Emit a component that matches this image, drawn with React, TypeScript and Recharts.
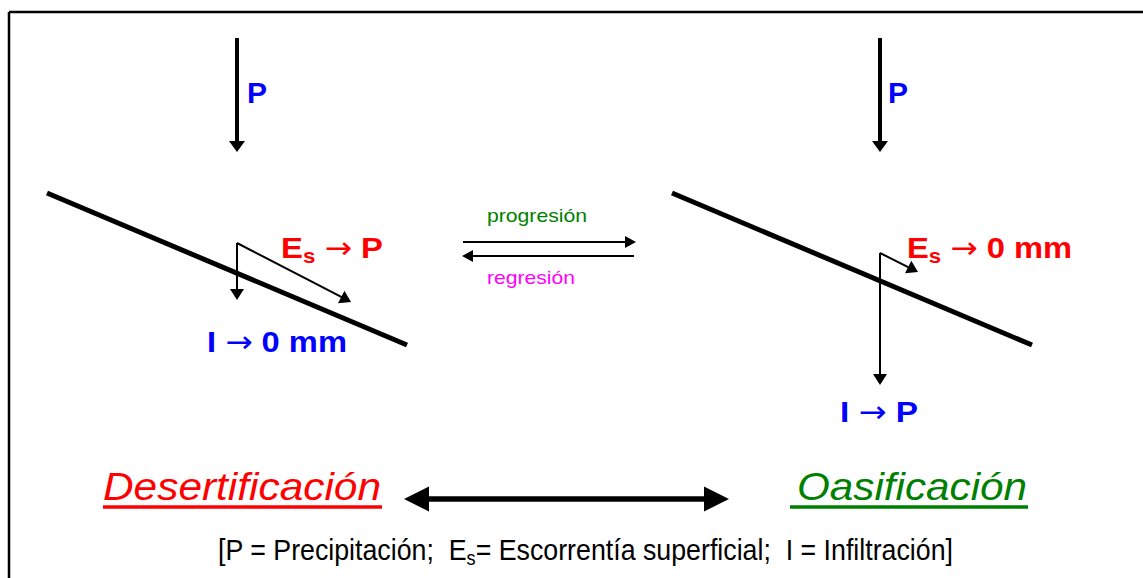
import React from 'react';
import { ComposedChart, XAxis, YAxis, Scatter, ReferenceLine, ReferenceDot } from 'recharts';

// diagram units == reference pixels
const W = 1143;
const H = 578;
const FONT = "Arial, 'Liberation Sans', sans-serif";

const frameLines = [
  { x1: 9, y1: 12, x2: 1143, y2: 12 },
  { x1: 9, y1: 12, x2: 9, y2: 578 },
];
const slopes = [
  { x1: 47, y1: 193, x2: 407, y2: 345 },
  { x1: 672, y1: 193, x2: 1032, y2: 345 },
];
const rainArrows = [
  { x1: 237, y1: 38, x2: 237, y2: 152 },
  { x1: 880, y1: 38, x2: 880, y2: 152 },
];
const flowArrows = [
  { x1: 237, y1: 243, x2: 237, y2: 300 },
  { x1: 237, y1: 243, x2: 351, y2: 302 },
  { x1: 880, y1: 253, x2: 880, y2: 385 },
  { x1: 880, y1: 253, x2: 918, y2: 272 },
];
const transitionArrows = [
  { x1: 463, y1: 242, x2: 636, y2: 242 },
  { x1: 634, y1: 256, x2: 462, y2: 256 },
];
const bigArrow = [{ x1: 404, y1: 499, x2: 729, y2: 499 }];
const underlines = [
  { x1: 103, y1: 507, x2: 382, y2: 507, color: '#FF0000' },
  { x1: 790, y1: 507, x2: 1028, y2: 507, color: '#008000' },
];

// x, baseline y, text width
const labels = [
  { x: 247, y: 103, w: 0, text: 'P', kind: 'blue' },
  { x: 888, y: 103, w: 0, text: 'P', kind: 'blue' },
  { x: 281, y: 258, w: 102, text: 'E_s → P', kind: 'red' },
  { x: 207, y: 352, w: 140, text: 'I → 0 mm', kind: 'blue' },
  { x: 907, y: 258, w: 165, text: 'E_s → 0 mm', kind: 'red' },
  { x: 840, y: 422, w: 78, text: 'I → P', kind: 'blue' },
  { x: 487, y: 222, w: 100, text: 'progresión', kind: 'prog' },
  { x: 487, y: 284, w: 88, text: 'regresión', kind: 'reg' },
  { x: 103, y: 500, w: 278, text: 'Desertificación', kind: 'desert' },
  { x: 797, y: 500, w: 230, text: 'Oasificación', kind: 'oasis' },
  { x: 218, y: 560, w: 735, text: '[P = Precipitación;  E_s= Escorrentía superficial;  I = Infiltración]', kind: 'legend' },
];

const labelStyle: Record<string, any> = {
  blue: { fill: '#0000FF', fontSize: 30, fontWeight: 'bold' },
  red: { fill: '#FF0000', fontSize: 30, fontWeight: 'bold' },
  prog: { fill: '#008000', fontSize: 19 },
  reg: { fill: '#FF00FF', fontSize: 19 },
  desert: { fill: '#FF0000', fontSize: 39, fontStyle: 'italic' },
  oasis: { fill: '#008000', fontSize: 39, fontStyle: 'italic' },
  legend: { fill: '#000000', fontSize: 29 },
};

// line with arrow head(s) drawn from the scaled end points
function arrowShape(width: number, headLen: number, headW: number, both = false) {
  return (p: any) => {
    const { x1, y1, x2, y2 } = p;
    const dx = x2 - x1;
    const dy = y2 - y1;
    const len = Math.sqrt(dx * dx + dy * dy) || 1;
    const ux = dx / len;
    const uy = dy / len;
    const nx = -uy;
    const ny = ux;
    const head = (tx: number, ty: number, sx: number, sy: number) => {
      const bx = tx - sx * headLen;
      const by = ty - sy * headLen;
      return `${tx},${ty} ${bx + nx * headW / 2},${by + ny * headW / 2} ${bx - nx * headW / 2},${by - ny * headW / 2}`;
    };
    const sx = both ? x1 + ux * headLen * 0.8 : x1;
    const sy = both ? y1 + uy * headLen * 0.8 : y1;
    return (
      <g>
        <line x1={sx} y1={sy} x2={x2 - ux * headLen * 0.8} y2={y2 - uy * headLen * 0.8} stroke="#000" strokeWidth={width} />
        <polygon points={head(x2, y2, ux, uy)} fill="#000" />
        {both && <polygon points={head(x1, y1, -ux, -uy)} fill="#000" />}
      </g>
    );
  };
}

function textShape(lbl: any) {
  return (p: any) => {
    const st = labelStyle[lbl.kind];
    const fs = st.fontSize;
    const tokens = lbl.text.split(/(_s|→)/).filter((t: string) => t !== '');
    let shift = 0;
    const kids = tokens.map((t: string, i: number) => {
      if (t === '_s') {
        shift = fs * 0.16;
        return <tspan key={i} fontSize={fs * 0.68} dy={shift}>s</tspan>;
      }
      const back = shift ? -shift : undefined;
      shift = 0;
      if (t === '→') {
        return <tspan key={i} dy={back} fontFamily="'DejaVu Sans', sans-serif" fontWeight="normal">→</tspan>;
      }
      return <tspan key={i} dy={back}>{t}</tspan>;
    });
    const fit = lbl.w ? { textLength: lbl.w, lengthAdjust: 'spacingAndGlyphs' } : {};
    return (
      <text x={p.cx} y={p.cy} fontFamily={FONT} style={{ whiteSpace: 'pre' }} {...st} {...fit}>
        {kids}
      </text>
    );
  };
}

const seg = (s: any) => [{ x: s.x1, y: s.y1 }, { x: s.x2, y: s.y2 }];
const corners = [{ x: 0, y: 0 }, { x: W, y: H }];

export default function App() {
  return (
    <div style={{ position: 'absolute', left: 0, top: 0, background: '#fff' }}>
      <ComposedChart width={W} height={H} data={corners} margin={{ top: 0, right: 0, bottom: 0, left: 0 }}>
        <XAxis type="number" dataKey="x" domain={[0, W]} hide allowDataOverflow />
        <YAxis type="number" dataKey="y" domain={[0, H]} reversed hide allowDataOverflow />
        <Scatter data={corners} fill="none" shape={() => <g />} isAnimationActive={false} />

        {frameLines.map((s, i) => (
          <ReferenceLine key={'f' + i} segment={seg(s)} stroke="#000" strokeWidth={2.5} ifOverflow="visible" />
        ))}
        {slopes.map((s, i) => (
          <ReferenceLine key={'s' + i} segment={seg(s)} stroke="#000" strokeWidth={5} ifOverflow="visible" />
        ))}
        {rainArrows.map((s, i) => (
          <ReferenceLine key={'r' + i} segment={seg(s)} ifOverflow="visible" shape={arrowShape(4, 11, 16)} />
        ))}
        {flowArrows.map((s, i) => (
          <ReferenceLine key={'a' + i} segment={seg(s)} ifOverflow="visible" shape={arrowShape(2, 11, 14)} />
        ))}
        {transitionArrows.map((s, i) => (
          <ReferenceLine key={'t' + i} segment={seg(s)} ifOverflow="visible" shape={arrowShape(2, 11, 12)} />
        ))}
        {bigArrow.map((s, i) => (
          <ReferenceLine key={'b' + i} segment={seg(s)} ifOverflow="visible" shape={arrowShape(5.5, 25, 25, true)} />
        ))}
        {underlines.map((s, i) => (
          <ReferenceLine key={'u' + i} segment={seg(s)} stroke={s.color} strokeWidth={3.5} ifOverflow="visible" />
        ))}
        {labels.map((l, i) => (
          <ReferenceDot key={'l' + i} x={l.x} y={l.y} r={0} ifOverflow="visible" shape={textShape(l)} />
        ))}
      </ComposedChart>
    </div>
  );
}
